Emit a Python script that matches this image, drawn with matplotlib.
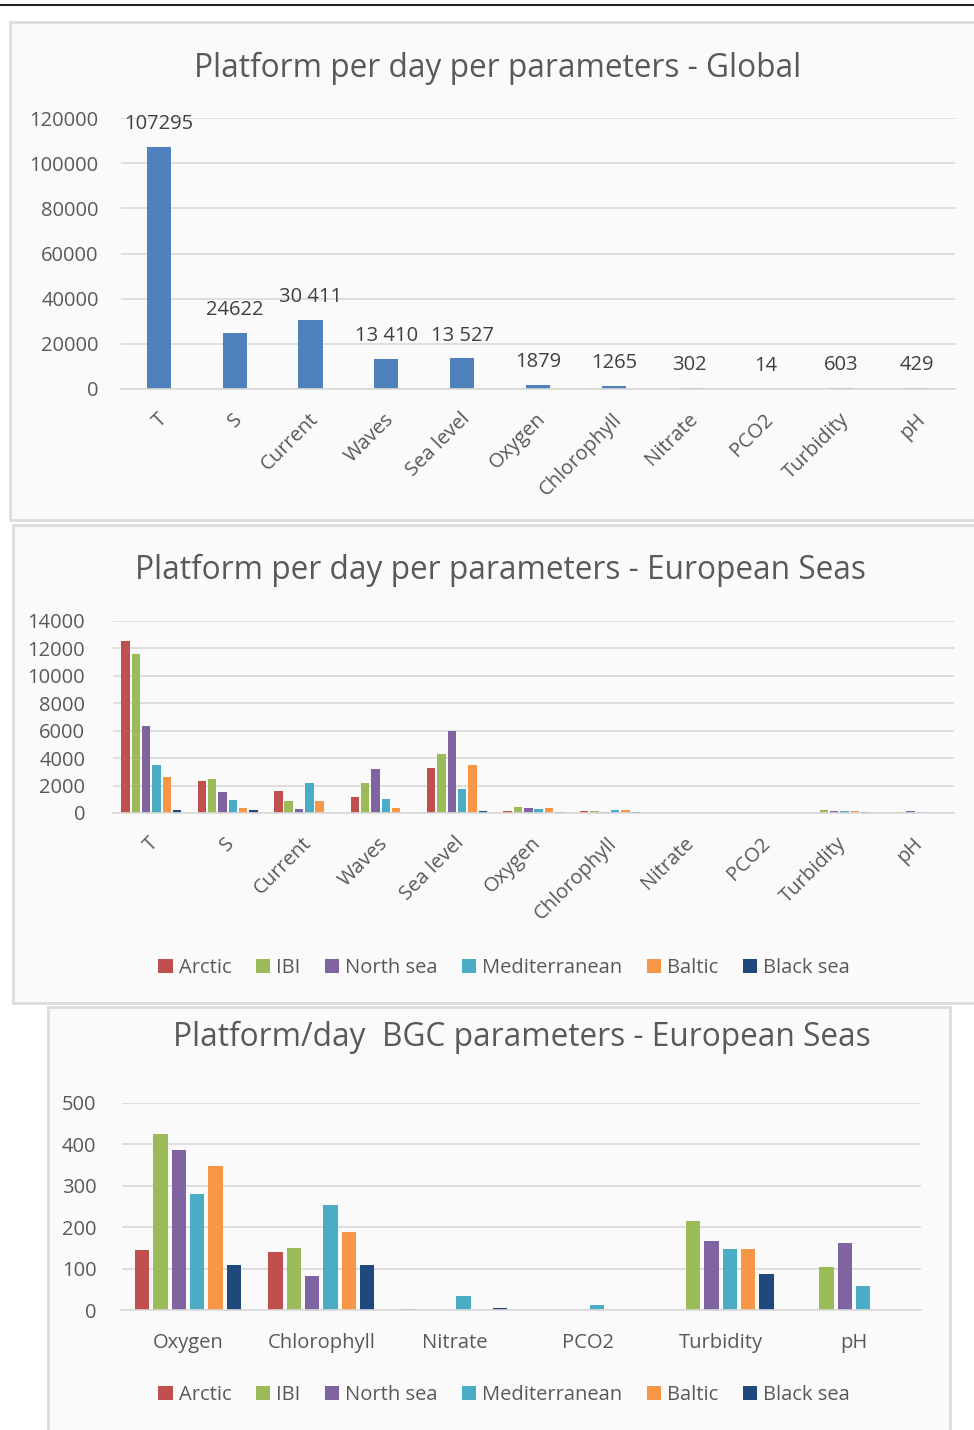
import matplotlib
matplotlib.use("Agg")
import matplotlib.pyplot as plt
import matplotlib.transforms as mtransforms
from matplotlib.patches import Rectangle
import numpy as np

# ---------------- data ----------------
global_params = ["T", "S", "Current", "Waves", "Sea level", "Oxygen", "Chlorophyll",
                 "Nitrate", "PCO2", "Turbidity", "pH"]
global_values = [107295, 24622, 30411, 13410, 13527, 1879, 1265, 302, 14, 603, 429]
global_labels = ["107295", "24622", "30 411", "13 410", "13 527", "1879", "1265",
                 "302", "14", "603", "429"]

regions = ["Arctic", "IBI", "North sea", "Mediterranean", "Baltic", "Black sea"]
region_colors = ["#C0504D", "#9BBB59", "#8064A2", "#4BACC6", "#F79646", "#1F497D"]

euro_params = global_params
arctic = [12550, 2350, 1600, 1135, 3245, 145, 141, 2, 0, 0, 0]
ibi = [11630, 2470, 845, 2180, 4290, 424, 150, 0, 0, 214, 105]
north_sea = [6350, 1500, 290, 3220, 6005, 386, 81, 0, 0, 166, 161]
mediterranean = [3510, 970, 2180, 1020, 1770, 281, 253, 34, 12, 148, 57]
baltic = [2620, 390, 845, 390, 3490, 347, 188, 0, 0, 148, 0]
black_sea = [190, 190, 30, 0, 120, 109, 109, 4, 0, 88, 0]

bgc_params = ["Oxygen", "Chlorophyll", "Nitrate", "PCO2", "Turbidity", "pH"]

# ---------------- style ----------------
FONT = ["Open Sans", "DejaVu Sans"]
plt.rcParams["font.family"] = FONT
TXT = "#595959"
GRID = "#D9D9D9"
W, H = 974, 1430

fig = plt.figure(figsize=(W / 100, H / 100), dpi=100)
fig.patch.set_facecolor("white")


def rect(l, t, r, b):
    return [l / W, 1 - b / H, (r - l) / W, (b - t) / H]


# page line and panels
fig.add_artist(plt.Line2D([0, 1], [1 - 4.5 / H, 1 - 4.5 / H], color="#222222", lw=1.5,
                          transform=fig.transFigure, zorder=-2))
for (l, t, r, b) in [(10, 22, 980, 520), (13, 525, 980, 1003), (48, 1007, 950, 1440)]:
    fig.add_artist(Rectangle((l / W, 1 - b / H), (r - l) / W, (b - t) / H,
                             transform=fig.transFigure, facecolor="#FAFAFA",
                             edgecolor="#DDDDDD", lw=2, zorder=-2))


def style_axes(ax):
    ax.set_facecolor("none")
    for s in ["top", "right", "left"]:
        ax.spines[s].set_visible(False)
    ax.spines["bottom"].set_color(GRID)
    ax.spines["bottom"].set_linewidth(1.2)
    ax.yaxis.grid(True, color=GRID, lw=1.2)
    ax.set_axisbelow(True)
    ax.tick_params(axis="both", length=0, colors=TXT, labelsize=14.5)


def shift_labels(ax, dx_px, dy_px):
    off = mtransforms.ScaledTranslation(dx_px / 100, dy_px / 100, fig.dpi_scale_trans)
    for lab in ax.get_xticklabels():
        lab.set_transform(lab.get_transform() + off)


# ---------------- chart 1 ----------------
ax1 = fig.add_axes(rect(121, 118, 955, 389))
style_axes(ax1)
x1 = np.arange(len(global_params))
ax1.bar(x1, global_values, width=0.32, color="#4F81BD")
ax1.set_xlim(-0.5, len(global_params) - 0.5)
ax1.set_ylim(0, 120000)
ax1.set_yticks(np.arange(0, 120001, 20000))
ax1.tick_params(axis="y", pad=16)
ax1.set_xticks(x1)
ax1.set_xticklabels(global_params, rotation=45, ha="right", va="center",
                    rotation_mode="anchor", fontsize=14.5)
ax1.tick_params(axis="x", pad=16)
shift_labels(ax1, 5, -5)
for xi, v, lab in zip(x1, global_values, global_labels):
    ax1.annotate(lab, (xi, v), xytext=(0, 16.5), textcoords="offset points",
                 ha="center", va="center", fontsize=14.5, color="#404040")
fig.text(498 / W, 1 - 68 / H, "Platform per day per parameters - Global",
         ha="center", va="center", fontsize=22.8, color=TXT)

# ---------------- chart 2 ----------------
ax2 = fig.add_axes(rect(113, 621, 954, 813))
style_axes(ax2)
x2 = np.arange(len(euro_params))
pitch2 = 0.135
series = [arctic, ibi, north_sea, mediterranean, baltic, black_sea]
for i, (vals, col, name) in enumerate(zip(series, region_colors, regions)):
    ax2.bar(x2 + (i - 2.5) * pitch2, vals, width=0.11, color=col, label=name)
ax2.set_xlim(-0.5, len(euro_params) - 0.5)
ax2.set_ylim(0, 14000)
ax2.set_yticks(np.arange(0, 14001, 2000))
ax2.tick_params(axis="y", pad=20)
ax2.set_xticks(x2)
ax2.set_xticklabels(euro_params, rotation=45, ha="right", va="center",
                    rotation_mode="anchor", fontsize=14.5)
ax2.tick_params(axis="x", pad=16)
shift_labels(ax2, 4, -5)
fig.text(500 / W, 1 - 570 / H, "Platform per day per parameters - European Seas",
         ha="center", va="center", fontsize=22.8, color=TXT)
fig.legend(*ax2.get_legend_handles_labels(), loc="center", bbox_to_anchor=(504 / W, 1 - 968 / H),
           ncol=6, frameon=False, fontsize=14.5, handlelength=0.7, handleheight=0.75,
           handletextpad=0.3, columnspacing=1.22, labelcolor=TXT)

# ---------------- chart 3 ----------------
ax3 = fig.add_axes(rect(121.5, 1103, 920.5, 1310))
style_axes(ax3)
x3 = np.arange(len(bgc_params))
pitch3 = 0.1378
for i, (vals, col, name) in enumerate(zip(series, region_colors, regions)):
    ax3.bar(x3 + (i - 2.5) * pitch3, vals[5:], width=0.108, color=col, label=name)
ax3.set_xlim(-0.5, len(bgc_params) - 0.5)
ax3.set_ylim(0, 500)
ax3.set_yticks(np.arange(0, 501, 100))
ax3.tick_params(axis="y", pad=18)
ax3.set_xticks(x3)
ax3.set_xticklabels(bgc_params, fontsize=14.5)
ax3.tick_params(axis="x", pad=16.5)
fig.text(522 / W, 1 - 1037 / H, "Platform/day  BGC parameters - European Seas",
         ha="center", va="center", fontsize=22.8, color=TXT)
fig.legend(*ax3.get_legend_handles_labels(), loc="center", bbox_to_anchor=(504 / W, 1 - 1395 / H),
           ncol=6, frameon=False, fontsize=14.5, handlelength=0.7, handleheight=0.75,
           handletextpad=0.3, columnspacing=1.22, labelcolor=TXT)

fig.savefig("out.png", dpi=100, facecolor="white")
